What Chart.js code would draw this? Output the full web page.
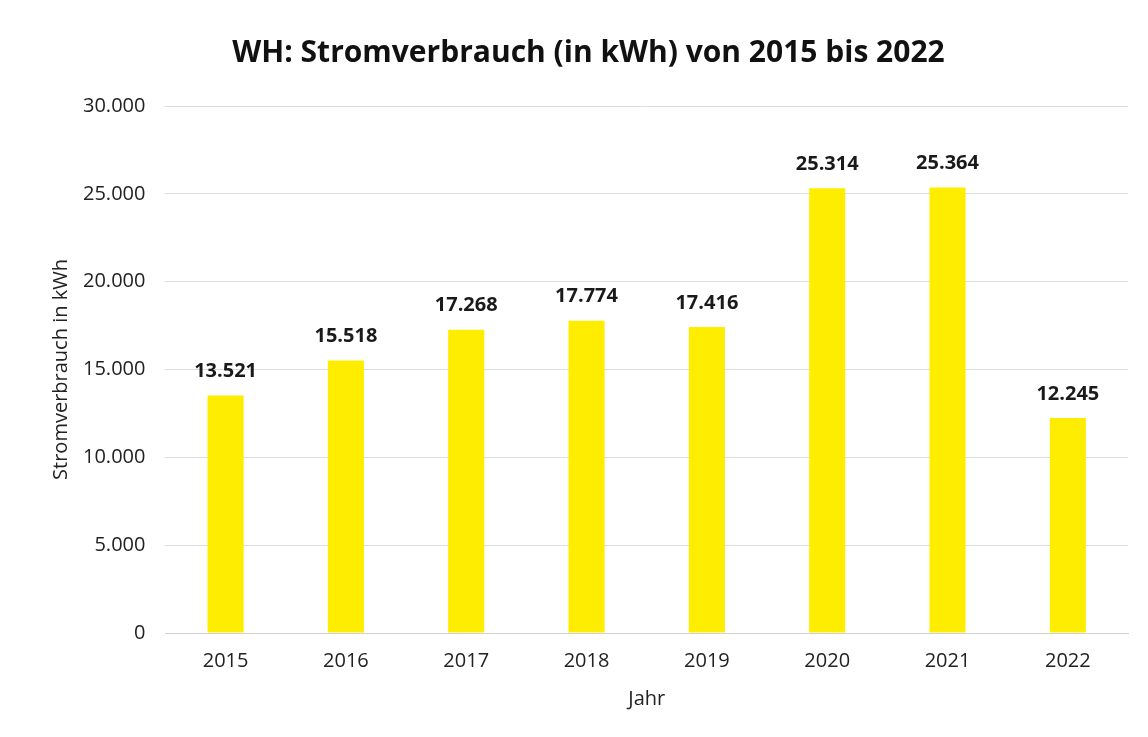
<!DOCTYPE html>
<html>
<head>
<meta charset="utf-8">
<script src="https://cdn.jsdelivr.net/npm/chart.js@4/dist/chart.umd.min.js"></script>
<style>
  html, body { margin: 0; padding: 0; background: #fff; }
  #wrap { width: 1148px; height: 737px; position: relative; }
</style>
</head>
<body>
<div id="wrap"><canvas id="stromChart"></canvas></div>
<script>
const years = ['2015', '2016', '2017', '2018', '2019', '2020', '2021', '2022'];
const verbrauch = [13521, 15518, 17268, 17774, 17416, 25314, 25364, 12245];
const yTicks = [0, 5000, 10000, 15000, 20000, 25000, 30000];

const fontFamily = "'Open Sans', 'Noto Sans', sans-serif";

function formatDe(v) {
    return v.toString().replace(/\B(?=(\d{3})+(?!\d))/g, '.');
}

// simple value labels above the bars
const valueLabels = {
    id: 'valueLabels',
    afterDatasetsDraw(chart) {
        const ctx = chart.ctx;
        const meta = chart.getDatasetMeta(0);
        ctx.save();
        ctx.font = "bold 20px " + fontFamily;
        ctx.fillStyle = '#1a1a1a';
        ctx.textAlign = 'center';
        ctx.textBaseline = 'bottom';
        meta.data.forEach((bar, i) => {
            ctx.fillText(formatDe(verbrauch[i]), bar.x, bar.y - 14);
        });
        ctx.restore();
    }
};

const ctx = document.getElementById('stromChart');
new Chart(ctx, {
    type: 'bar',
    data: {
        labels: years,
        datasets: [{
            data: verbrauch,
            backgroundColor: '#ffed00',
            borderWidth: 0,
            categoryPercentage: 1.0,
            barPercentage: 0.30
        }]
    },
    options: {
        responsive: true,
        maintainAspectRatio: false,
        animation: false,
        layout: { padding: { left: 49, right: 20, top: 18, bottom: 22 } },
        plugins: {
            legend: { display: false },
            tooltip: { enabled: false },
            title: {
                display: true,
                text: 'WH: Stromverbrauch (in kWh) von 2015 bis 2022',
                color: '#111',
                font: { family: fontFamily, size: 30, weight: 'bold' },
                padding: { top: 17, bottom: 35 }
            }
        },
        scales: {
            x: {
                grid: { display: false, drawTicks: false },
                border: { color: '#d0d0d0' },
                ticks: { color: '#222', font: { family: fontFamily, size: 20 }, padding: 16 },
                title: {
                    display: true,
                    text: 'Jahr',
                    color: '#222',
                    font: { family: fontFamily, size: 20 },
                    padding: { top: -2 }
                }
            },
            y: {
                min: 0,
                max: 30000,
                afterBuildTicks(axis) {
                    axis.ticks = yTicks.map(v => ({ value: v }));
                },
                grid: { color: '#dcdcdc', drawTicks: false },
                border: { display: false },
                ticks: {
                    color: '#222',
                    font: { family: fontFamily, size: 20 },
                    padding: 20,
                    callback: v => formatDe(v)
                },
                title: {
                    display: true,
                    text: 'Stromverbrauch in kWh',
                    color: '#222',
                    font: { family: fontFamily, size: 20 },
                    padding: { top: 0, bottom: -10 }
                }
            }
        }
    },
    plugins: [valueLabels]
});
</script>
</body>
</html>
